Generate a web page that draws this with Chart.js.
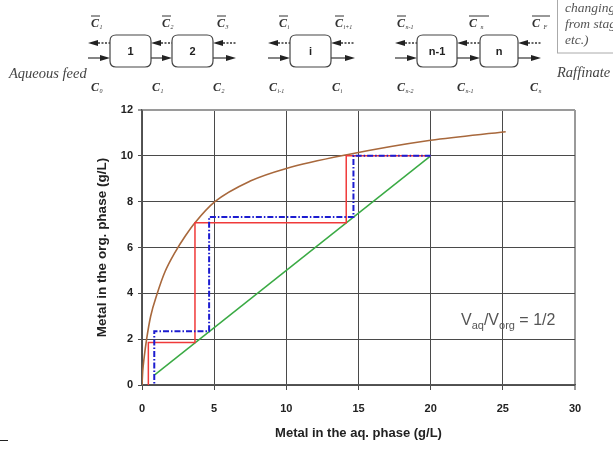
<!DOCTYPE html>
<html><head><meta charset="utf-8">
<script src="https://cdn.jsdelivr.net/npm/chart.js@4.4.1/dist/chart.umd.min.js"></script>
<style>html,body{margin:0;padding:0;background:#fff;}canvas{display:block;}</style>
</head><body>
<canvas id="c" width="613" height="451"></canvas>
<script>
// Equilibrium curve (brown)
const eqX = [0, 0.05, 0.15, 0.32, 0.6, 1.06, 1.6, 2.3, 3.0, 3.67, 5.05, 7.5, 10, 14.2, 20, 25.2];
const eqY = [0, 0.6, 1.2, 2.0, 3.0, 4.0, 4.95, 5.8, 6.5, 7.08, 8.0, 8.9, 9.45, 10.05, 10.68, 11.05];
// Operating line (green), slope Vaq/Vorg = 1/2
const opX = [0.9, 20];
const opY = [0.45, 10];
// Red stage steps
const redX = [20, 14.15, 14.15, 3.67, 3.67, 0.44, 0.44];
const redY = [10, 10, 7.08, 7.08, 1.85, 1.85, 0];
// Blue dash-dot stage steps
const blueX = [20, 14.65, 14.65, 4.65, 4.65, 0.85, 0.85];
const blueY = [10, 10, 7.33, 7.33, 2.35, 2.35, 0];
// Axis ticks
const xTicks = [0, 5, 10, 15, 20, 25, 30];
const yTicks = [0, 2, 4, 6, 8, 10, 12];
const xTitle = 'Metal in the aq. phase (g/L)';
const yTitle = 'Metal in the org. phase (g/L)';

const pts = (xs, ys) => xs.map((x, i) => ({x: x, y: ys[i]}));

const SANS = '"Liberation Sans", Arial, sans-serif';
const SERIF = '"Liberation Serif", "Times New Roman", serif';

function cLabel(ctx, x, y, sub, bar, barW) {
  ctx.font = 'italic bold 12px ' + SERIF;
  ctx.textAlign = 'left';
  ctx.textBaseline = 'alphabetic';
  ctx.fillText('C', x, y);
  const w = ctx.measureText('C').width;
  ctx.font = 'italic 6px ' + SERIF;
  ctx.fillText(sub, x + w + 0.5, y + 2);
  if (bar) {
    ctx.beginPath();
    ctx.lineWidth = 1;
    ctx.moveTo(x, y - 11);
    ctx.lineTo(x + (barW || w + 1), y - 11);
    ctx.stroke();
  }
}

function roundRect(ctx, x, y, w, h, r) {
  ctx.beginPath();
  ctx.moveTo(x + r, y);
  ctx.lineTo(x + w - r, y);
  ctx.quadraticCurveTo(x + w, y, x + w, y + r);
  ctx.lineTo(x + w, y + h - r);
  ctx.quadraticCurveTo(x + w, y + h, x + w - r, y + h);
  ctx.lineTo(x + r, y + h);
  ctx.quadraticCurveTo(x, y + h, x, y + h - r);
  ctx.lineTo(x, y + r);
  ctx.quadraticCurveTo(x, y, x + r, y);
  ctx.closePath();
}

const diagramPlugin = {
  id: 'diagram',
  afterDraw(chart) {
    const ctx = chart.ctx;
    ctx.save();
    ctx.strokeStyle = '#333';
    ctx.fillStyle = '#222';
    const gaps = [[88,110],[151,172],[213,236],[268,290],[331,355],[395,417],[457,480],[518,541]];
    gaps.forEach(g => {
      const [a, b] = g;
      ctx.beginPath();
      ctx.moveTo(a, 43); ctx.lineTo(a + 10, 40); ctx.lineTo(a + 10, 46); ctx.closePath();
      ctx.fill();
      ctx.setLineDash([2, 1.5]);
      ctx.lineWidth = 1.5;
      ctx.beginPath(); ctx.moveTo(a + 10, 43); ctx.lineTo(b, 43); ctx.stroke();
      ctx.setLineDash([]);
      ctx.lineWidth = 1.2;
      ctx.beginPath(); ctx.moveTo(a, 58); ctx.lineTo(b - 9, 58); ctx.stroke();
      ctx.beginPath();
      ctx.moveTo(b, 58); ctx.lineTo(b - 10, 55); ctx.lineTo(b - 10, 61); ctx.closePath();
      ctx.fill();
    });
    const boxes = [[110,151,'1'],[172,213,'2'],[290,331,'i'],[417,457,'n-1'],[480,518,'n']];
    boxes.forEach(bx => {
      roundRect(ctx, bx[0], 35, bx[1] - bx[0], 32, 6);
      ctx.fillStyle = '#fff';
      ctx.fill();
      ctx.lineWidth = 1.2;
      ctx.strokeStyle = '#444';
      ctx.stroke();
      ctx.fillStyle = '#222';
      ctx.font = 'bold 11px ' + SANS;
      ctx.textAlign = 'center';
      ctx.textBaseline = 'middle';
      ctx.fillText(bx[2], (bx[0] + bx[1]) / 2, 52);
    });
    ctx.strokeStyle = '#333';
    ctx.fillStyle = '#333';
    const topL = [[91,'1'],[162,'2'],[217,'3'],[279,'i'],[335,'i+1'],[397,'n-1']];
    topL.forEach(t => cLabel(ctx, t[0], 27, t[1], true));
    cLabel(ctx, 469, 27, '  n', true, 20);
    cLabel(ctx, 532, 27, '  F', true, 18);
    const botL = [[91,'0'],[152,'1'],[213,'2'],[269,'i-1'],[332,'i'],[397,'n-2'],[457,'n-1'],[530,'n']];
    botL.forEach(t => cLabel(ctx, t[0], 91, t[1], false));
    ctx.fillStyle = '#444';
    ctx.font = 'italic 14.5px ' + SERIF;
    ctx.textAlign = 'left';
    ctx.textBaseline = 'alphabetic';
    ctx.fillText('Aqueous feed', 9, 78);
    ctx.fillText('Raffinate', 557, 77);
    ctx.strokeStyle = '#aaa';
    ctx.lineWidth = 1;
    ctx.strokeRect(557.5, -2, 80, 55);
    ctx.fillStyle = '#555';
    ctx.font = 'italic 13.5px ' + SERIF;
    ctx.fillText('changing', 565, 12);
    ctx.fillText('from stages', 565, 28);
    ctx.fillText('etc.)', 565, 44);
    ctx.strokeStyle = '#222';
    ctx.beginPath(); ctx.moveTo(0, 440.5); ctx.lineTo(8, 440.5); ctx.stroke();
    ctx.fillStyle = '#555';
    let x = 461, y = 325;
    const parts = [['V', 16, 0], ['aq', 11, 4], ['/V', 16, 0], ['org', 11, 4], [' = 1/2', 16, 0]];
    parts.forEach(p => {
      ctx.font = p[1] + 'px ' + SANS;
      ctx.fillText(p[0], x, y + p[2]);
      x += ctx.measureText(p[0]).width;
    });
    ctx.restore();
  }
};

new Chart(document.getElementById('c'), {
  type: 'line',
  data: {
    datasets: [
      {data: pts(blueX, blueY), borderColor: '#1c1cd0', borderWidth: 2, borderDash: [6, 2, 1.5, 2], pointRadius: 0, tension: 0},
      {data: pts(redX, redY), borderColor: '#f03a3a', borderWidth: 1.5, pointRadius: 0, tension: 0},
      {data: pts(opX, opY), borderColor: '#3aaa44', borderWidth: 1.5, pointRadius: 0, tension: 0},
      {data: pts(eqX, eqY), borderColor: '#a8683c', borderWidth: 1.6, pointRadius: 0, cubicInterpolationMode: 'monotone'}
    ]
  },
  options: {
    responsive: false,
    animation: false,
    devicePixelRatio: 1,
    layout: {padding: {left: 90, right: 38, top: 110, bottom: 6}},
    plugins: {legend: {display: false}, tooltip: {enabled: false}},
    scales: {
      x: {
        type: 'linear', min: 0, max: 30,
        afterBuildTicks: s => { s.ticks = xTicks.map(v => ({value: v})); },
        afterFit: s => { s.height = 60; },
        grid: {
          color: ctx => ctx.tick && ctx.tick.value === 30 ? '#9a9a9a' : '#4a4a4a',
          lineWidth: ctx => ctx.tick && ctx.tick.value === 30 ? 2 : 1,
          tickLength: 5
        },
        border: {color: '#555', width: 1.5},
        ticks: {font: {family: SANS, size: 11, weight: 'bold'}, color: '#222', padding: 12, maxRotation: 0},
        title: {display: true, text: xTitle, font: {family: SANS, size: 13, weight: 'bold'}, color: '#222', padding: {top: 4, bottom: 4}}
      },
      y: {
        type: 'linear', min: 0, max: 12,
        afterBuildTicks: s => { s.ticks = yTicks.map(v => ({value: v})); },
        afterFit: s => { s.width = 52; },
        grid: {
          color: ctx => ctx.tick && ctx.tick.value === 12 ? '#9a9a9a' : '#4a4a4a',
          lineWidth: ctx => ctx.tick && ctx.tick.value === 12 ? 2 : 1,
          tickLength: 4
        },
        border: {color: '#555', width: 1.5},
        ticks: {font: {family: SANS, size: 11, weight: 'bold'}, color: '#222', padding: 5},
        title: {display: true, text: yTitle, font: {family: SANS, size: 13.5, weight: 'bold'}, color: '#222', padding: {top: 4, bottom: 4}}
      }
    }
  },
  plugins: [diagramPlugin]
});
</script>
</body></html>
